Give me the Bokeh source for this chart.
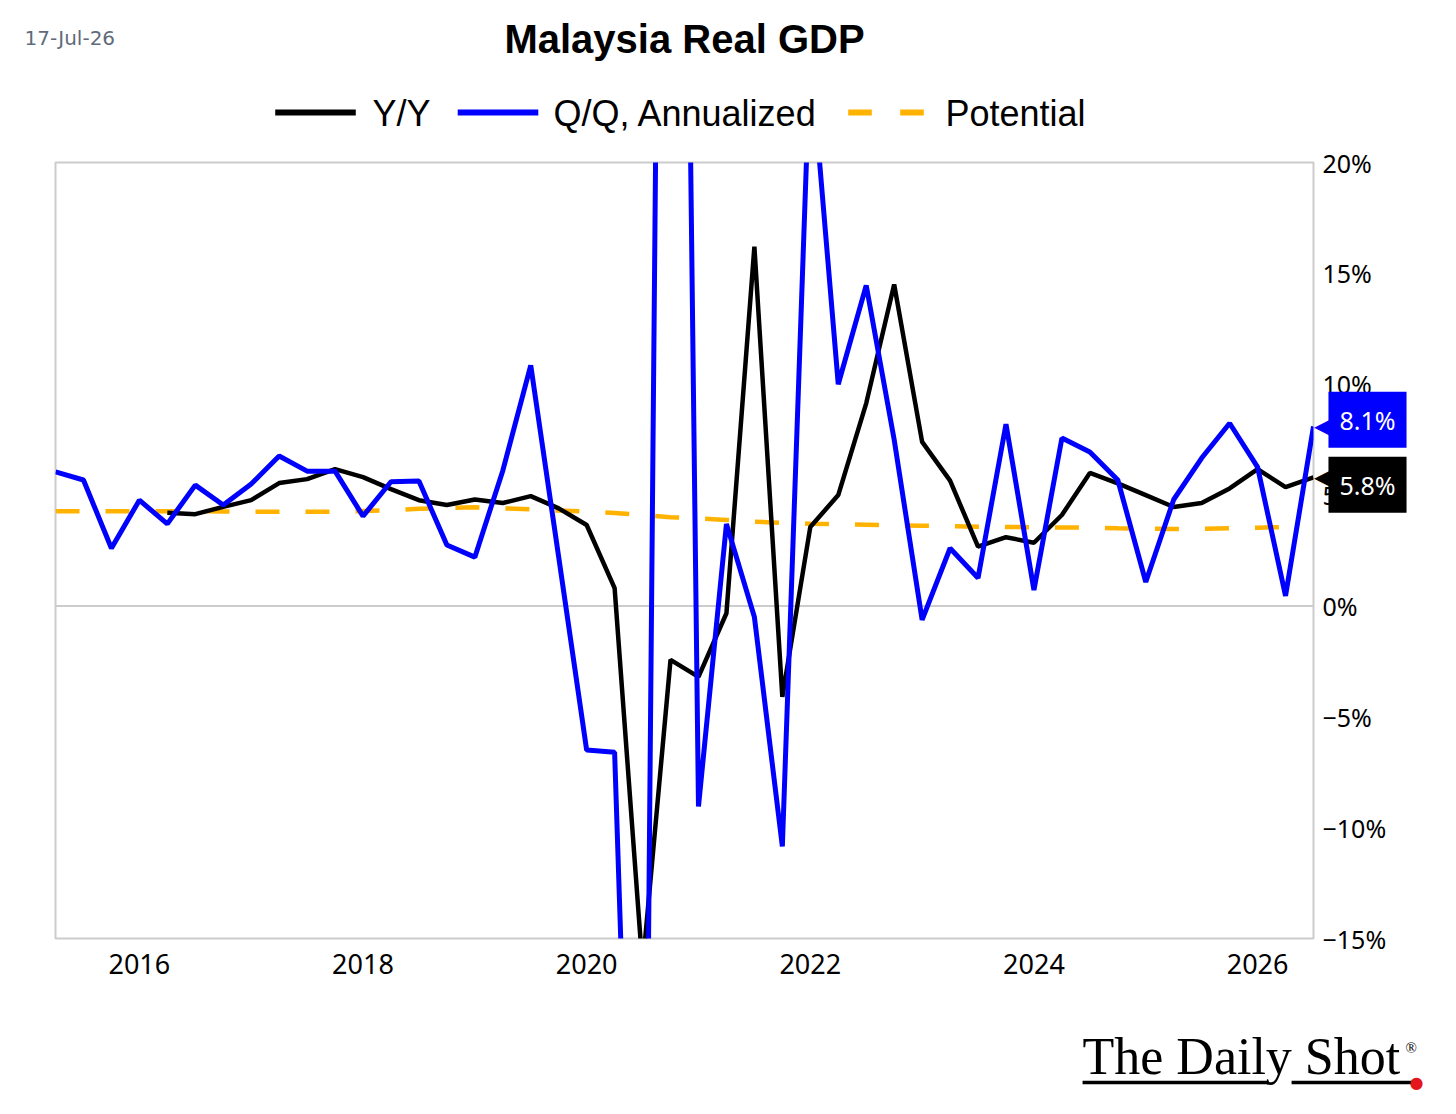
from bokeh.plotting import figure
from bokeh.models import (Span, FixedTicker, CustomJSTickFormatter, Range1d,
                          GridBox, Label)
from bokeh.embed import file_html
from bokeh.resources import INLINE

# ---------------- data ----------------
quarters = ["2015Q2", "2015Q3", "2015Q4",
            "2016Q1", "2016Q2", "2016Q3", "2016Q4",
            "2017Q1", "2017Q2", "2017Q3", "2017Q4",
            "2018Q1", "2018Q2", "2018Q3", "2018Q4",
            "2019Q1", "2019Q2", "2019Q3", "2019Q4",
            "2020Q1", "2020Q2", "2020Q3", "2020Q4",
            "2021Q1", "2021Q2", "2021Q3", "2021Q4",
            "2022Q1", "2022Q2", "2022Q3", "2022Q4",
            "2023Q1", "2023Q2", "2023Q3", "2023Q4",
            "2024Q1", "2024Q2", "2024Q3", "2024Q4",
            "2025Q1", "2025Q2", "2025Q3", "2025Q4",
            "2026Q1", "2026Q2", "2026Q3"]

yoy = [None, None, None, None,
       4.2, 4.14, 4.47, 4.77, 5.54, 5.72, 6.17, 5.81,
       5.27, 4.77, 4.55, 4.8, 4.64, 4.95, 4.4, 3.65,
       0.8, -16.3, -2.43, -3.2, -0.33, 16.2, -4.1, 3.56,
       5.0, 9.14, 14.5, 7.4, 5.65, 2.67, 3.1, 2.85,
       4.1, 6.0, 5.53, 5.0, 4.46, 4.64, 5.3, 6.17, 5.36, 5.8]

qoq = [6.05, 5.68, 2.6, 4.77, 3.7, 5.45, 4.55, 5.5,
       6.76, 6.08, 6.08, 4.05, 5.6, 5.63, 2.75, 2.2,
       6.1, 10.85, 2.2, -6.5, -6.6, -45.0, 95.0, -9.05,
       3.7, -0.5, -10.85, 25.0, 10.0, 14.46, 7.5, -0.63,
       2.6, 1.26, 8.2, 0.72, 7.57, 6.94, 5.68, 1.08,
       4.8, 6.67, 8.24, 6.26, 0.45, 8.1]

potential = [4.27, 4.27, 4.27, 4.27, 4.27, 4.27, 4.26, 4.25,
             4.25, 4.25, 4.25, 4.28, 4.32, 4.38, 4.42, 4.45,
             4.40, 4.36, 4.30, 4.26, 4.19, 4.10, 4.00, 3.95,
             3.88, 3.80, 3.75, 3.71, 3.68, 3.66, 3.64, 3.62,
             3.60, 3.57, 3.56, 3.55, 3.54, 3.53, 3.50, 3.49,
             3.47, 3.48, 3.50, 3.53, 3.56]

x_ticks = [2016, 2018, 2020, 2022, 2024, 2026]
y_ticks = [-15, -10, -5, 0, 5, 10, 15, 20]

title_text = "Malaysia Real GDP"
date_text = "17-Jul-26"
series_names = ["Y/Y", "Q/Q, Annualized", "Potential"]
series_colors = ["black", "#0000ff", "#ffb300"]
logo_text = "The Daily Shot"

# ---------------- geometry ----------------
def qx(q):
    return int(q[:4]) + (int(q[-1]) - 1) / 4.0

xs = [qx(q) for q in quarters]
x0, x1 = xs[0], xs[-1]
y0, y1 = -15, 20

W, H = 1456, 1114
FL, FR, FT, FB = 55, 1313, 162, 938   # plot frame in screen px

def sy_of(v):
    return FT + (y1 - v) * (FB - FT) / (y1 - y0)

FONT = "Noto Sans"
SANS = "Liberation Sans"

# ---------------- main chart ----------------
p = figure(width=W, height=H, output_backend="svg", toolbar_location=None,
           x_range=Range1d(x0, x1), y_range=Range1d(y0, y1),
           y_axis_location="right",
           min_border_left=FL, min_border_right=W - FR,
           min_border_top=FT, min_border_bottom=H - FB)

p.background_fill_color = "white"
p.border_fill_color = "white"
p.outline_line_color = "#cccccc"
p.outline_line_width = 2
p.xgrid.visible = False
p.ygrid.visible = False

p.xaxis.ticker = FixedTicker(ticks=x_ticks)
p.xaxis.axis_line_color = None
p.xaxis.major_tick_line_color = None
p.xaxis.minor_tick_line_color = None
p.xaxis.major_tick_out = 0
p.xaxis.major_label_standoff = 15
p.xaxis.major_label_text_font = FONT
p.xaxis.major_label_text_font_size = "27px"
p.xaxis.major_label_text_color = "black"

p.yaxis.ticker = FixedTicker(ticks=y_ticks)
p.yaxis.formatter = CustomJSTickFormatter(
    code="return (tick < 0 ? '\u2212' : '') + Math.abs(tick) + '%';")
p.yaxis.axis_line_color = None
p.yaxis.major_tick_line_color = None
p.yaxis.minor_tick_line_color = None
p.yaxis.major_tick_out = 0
p.yaxis.major_label_standoff = 9
p.yaxis.major_label_text_font = FONT
p.yaxis.major_label_text_font_size = "25px"
p.yaxis.major_label_text_color = "black"

p.add_layout(Span(location=0, dimension="width", line_color="#cccccc",
                  line_width=2, level="underlay"))

p.line(xs[:len(potential)], potential, line_color=series_colors[2],
       line_width=4.5, line_dash="24 26")
p.line(xs, [float("nan") if v is None else v for v in yoy],
       line_color=series_colors[0], line_width=4.5)
p.line(xs, qoq, line_color=series_colors[1], line_width=5)

# ---------------- transparent overlay with the same frame ----------------
# (its frame is aligned with the chart's frame by the grid; labels that live
#  in its side panels are not clipped, data units == screen pixels)
d = figure(width=W, height=H, output_backend="svg", toolbar_location=None,
           x_range=Range1d(FL, FR), y_range=Range1d(FB, FT),
           x_axis_location=None, y_axis_location=None, min_border=0)
d.background_fill_alpha = 0
d.border_fill_alpha = 0
d.outline_line_color = None
d.xgrid.visible = False
d.ygrid.visible = False
d.grid.grid_line_color = None


def put(side, **kw):
    kw.setdefault("text_align", "left")
    kw.setdefault("text_baseline", "middle")
    d.add_layout(Label(**kw), side)


def bar(side, xc, yc, length, color, font_px):
    # a filled strip made of a label's background (spaces of a tiny font)
    n = int(round(length / (0.278 * font_px)))
    put(side, x=xc, y=yc, text=" " * n, text_font=SANS,
        text_font_size="%gpx" % font_px, text_align="center",
        background_fill_color=color, background_fill_alpha=1)


# date + title  (above)
put("above", x=24, y=37, text=date_text, text_font="DejaVu Sans",
    text_font_size="20px", text_color="#5f6b7a")
put("above", x=(FL + FR) / 2, y=38, text=title_text, text_align="center",
    text_font=SANS, text_font_style="bold", text_font_size="40px",
    text_color="black")

# legend
LY = 112
put("right", x=372, y=LY + 1, text=series_names[0], text_font=SANS,
    text_font_size="36px", text_color="black")
put("above", x=553, y=LY + 1, text=series_names[1], text_font=SANS,
    text_font_size="36px", text_color="black")
put("above", x=945, y=LY + 1, text=series_names[2], text_font=SANS,
    text_font_size="36px", text_color="black")
bar("below", 315, LY, 80, series_colors[0], 5)
bar("below", 497.5, LY, 81, series_colors[1], 5)
bar("below", 859.5, LY, 23, series_colors[2], 5)
bar("below", 911.5, LY, 23, series_colors[2], 5)

# last-value call-outs
last_vals = [qoq[-1], yoy[-1]]
box_colors = [series_colors[1], series_colors[0]]
box_shift = [-6.5, 7.5]
box_sides = ["right", "below"]
for v, c, s, side in zip(last_vals, box_colors, box_shift, box_sides):
    tip = sy_of(v)
    put("left", x=FR + 19, y=tip, text="\u25c0", text_font="DejaVu Sans",
        text_font_size="24px", text_color=c, text_align="right")
    put(side, x=1367, y=tip + s, text="%.1f%%" % v, text_font=FONT,
        text_font_size="25px", text_color="white", text_align="center",
        background_fill_color=c, background_fill_alpha=1, padding=11)

# logo
put("below", x=1082, y=1056, text=logo_text, text_font="Liberation Serif",
    text_font_size="52px", text_color="black")
put("below", x=1405, y=1047, text="\u00ae", text_font="Liberation Serif",
    text_font_size="15px", text_color="black")
bar("below", (1082 + 1268) / 2, 1082, 186, "black", 3)
bar("below", (1291 + 1412) / 2, 1082, 121, "black", 3)
put("left", x=1416, y=1082, text="\u25cf", text_font="DejaVu Sans",
    text_font_size="16px", text_color="#e3161b", text_align="center")

layout = GridBox(children=[(p, 0, 0), (d, 0, 0)])

open("out.html", "w").write(file_html(layout, INLINE))
